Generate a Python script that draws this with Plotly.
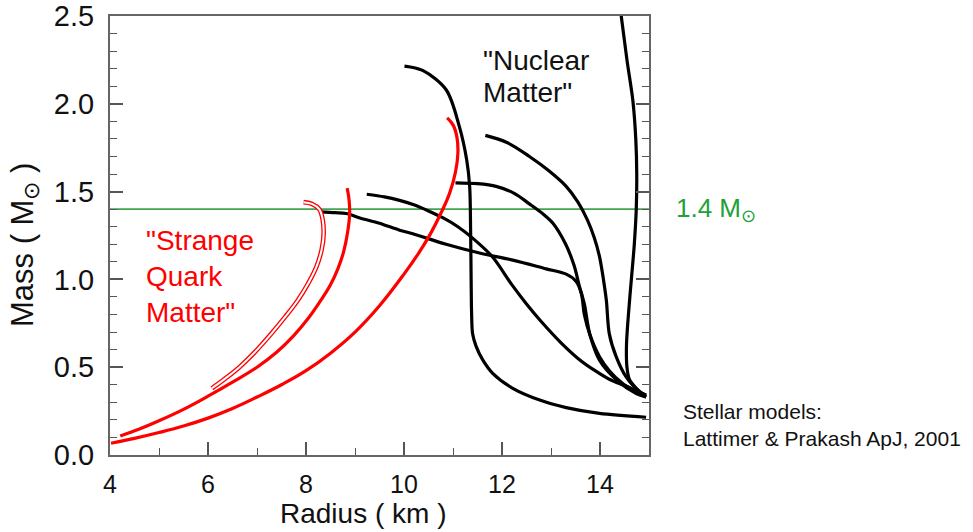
import plotly.graph_objects as go

FONT = "Liberation Sans, Arial, Helvetica, sans-serif"

# ---- axes ----
radius_range = [4, 15]
mass_range = [0, 2.5]
x_tick_vals = [4, 6, 8, 10, 12, 14]
x_tick_text = ["4", "6", "8", "10", "12", "14"]
y_tick_vals = [0.0, 0.5, 1.0, 1.5, 2.0, 2.5]
y_tick_text = ["0.0", "0.5", "1.0", "1.5", "2.0", "2.5"]

# canonical neutron-star mass (solar masses)
ref_mass = 1.4

# ---- strange quark matter stars (radius km, mass Msun) ----
sqm1_radius = [4.21, 4.6, 5.0, 5.5, 6.0, 6.5, 7.0, 7.4, 7.75, 8.05, 8.3, 8.5, 8.65, 8.77, 8.85, 8.89, 8.88, 8.84]
sqm1_mass = [0.108, 0.148, 0.195, 0.26, 0.335, 0.415, 0.50, 0.585, 0.68, 0.78, 0.88, 0.97, 1.06, 1.16, 1.27, 1.37, 1.45, 1.52]

sqm2_radius = [4.02, 4.5, 5.0, 5.5, 6.0, 6.5, 7.0, 7.5, 8.0, 8.5, 9.0, 9.5, 10.0, 10.3, 10.55, 10.75, 10.93, 11.05, 11.1, 11.08, 11.0, 10.88]
sqm2_mass = [0.067, 0.095, 0.128, 0.165, 0.21, 0.265, 0.33, 0.40, 0.48, 0.58, 0.70, 0.85, 1.03, 1.15, 1.265, 1.375, 1.49, 1.61, 1.72, 1.81, 1.88, 1.92]

sqm3_radius = [6.08, 6.35, 6.64, 6.97, 7.29, 7.57, 7.83, 8.04, 8.21, 8.32, 8.36, 8.34, 8.27, 8.12, 7.95]
sqm3_mass = [0.38, 0.435, 0.50, 0.59, 0.69, 0.785, 0.88, 0.975, 1.07, 1.17, 1.26, 1.34, 1.40, 1.43, 1.44]

# ---- nuclear matter stars (radius km, mass Msun) ----
nm1_radius = [10.01, 10.38, 10.86, 11.13, 11.28, 11.34, 11.36, 11.37, 11.38, 11.4, 11.47, 11.61, 11.81, 12.22, 12.77, 13.31, 13.99, 14.94]
nm1_mass = [2.215, 2.19, 2.08, 1.87, 1.68, 1.53, 1.26, 1.0, 0.8, 0.69, 0.62, 0.54, 0.465, 0.38, 0.313, 0.27, 0.237, 0.215]

nm2_radius = [14.41, 14.55, 14.67, 14.73, 14.75, 14.74, 14.7, 14.64, 14.58, 14.54, 14.55, 14.6, 14.74, 14.94]
nm2_mass = [2.55, 2.25, 2.02, 1.8, 1.6, 1.4, 1.2, 1.0, 0.8, 0.62, 0.5, 0.43, 0.38, 0.33]

nm3_radius = [11.66, 12.1, 12.56, 12.95, 13.31, 13.55, 13.74, 13.88, 13.99, 14.07, 14.13, 14.19, 14.33, 14.53, 14.81, 14.94]
nm3_mass = [1.82, 1.78, 1.70, 1.62, 1.53, 1.44, 1.34, 1.24, 1.13, 1.0, 0.88, 0.69, 0.56, 0.446, 0.36, 0.34]

nm4_radius = [11.05, 11.5, 11.88, 12.25, 12.56, 12.85, 13.04, 13.3, 13.47, 13.58, 13.68, 13.79, 13.99, 14.33, 14.74, 14.94]
nm4_mass = [1.55, 1.545, 1.53, 1.49, 1.43, 1.37, 1.32, 1.2, 1.08, 0.96, 0.86, 0.69, 0.54, 0.43, 0.35, 0.33]

nm5_radius = [9.24, 9.6, 9.91, 10.2, 10.5, 10.8, 11.1, 11.4, 11.8, 12.2, 12.5, 12.8, 13.2, 13.55, 13.9, 14.2, 14.55, 14.94]
nm5_mass = [1.485, 1.47, 1.45, 1.425, 1.39, 1.35, 1.3, 1.235, 1.13, 0.97, 0.86, 0.76, 0.64, 0.55, 0.48, 0.43, 0.39, 0.34]

nm6_radius = [8.28, 8.6, 8.82, 9.1, 9.5, 9.91, 10.18, 10.86, 11.54, 12.22, 12.9, 13.31, 13.51, 13.62, 13.68, 13.8, 13.99, 14.19, 14.45, 14.67, 14.94]
nm6_mass = [1.385, 1.38, 1.375, 1.35, 1.32, 1.28, 1.26, 1.20, 1.15, 1.11, 1.06, 1.03, 0.99, 0.92, 0.80, 0.68, 0.56, 0.48, 0.41, 0.37, 0.33]

RED = "#ff0000"
BLACK = "#000000"
GREEN_LINE = "#44a44c"
GREEN_TEXT = "#22a03a"
INK = "#111111"

fig = go.Figure()

# 1.4 Msun reference line
fig.add_trace(go.Scatter(x=radius_range, y=[ref_mass, ref_mass], mode="lines",
                         line=dict(color=GREEN_LINE, width=1.6), hoverinfo="skip"))

# nuclear matter sequences
for r, m in [(nm1_radius, nm1_mass), (nm2_radius, nm2_mass), (nm3_radius, nm3_mass),
             (nm4_radius, nm4_mass), (nm5_radius, nm5_mass), (nm6_radius, nm6_mass)]:
    fig.add_trace(go.Scatter(x=r, y=m, mode="lines",
                             line=dict(color=BLACK, width=3.2, shape="spline", smoothing=0.9),
                             hoverinfo="skip"))

# strange quark matter: hollow (double-stroke) sequence
fig.add_trace(go.Scatter(x=sqm3_radius, y=sqm3_mass, mode="lines",
                         line=dict(color=RED, width=4.6, shape="spline", smoothing=1.1),
                         hoverinfo="skip"))
fig.add_trace(go.Scatter(x=sqm3_radius, y=sqm3_mass, mode="lines",
                         line=dict(color="#ffffff", width=2.0, shape="spline", smoothing=1.1),
                         hoverinfo="skip"))

# strange quark matter: solid sequences
for r, m in [(sqm1_radius, sqm1_mass), (sqm2_radius, sqm2_mass)]:
    fig.add_trace(go.Scatter(x=r, y=m, mode="lines",
                             line=dict(color=RED, width=3.2, shape="spline", smoothing=1.2),
                             hoverinfo="skip"))

axis_common = dict(
    showline=True, linecolor="#666666", linewidth=2,
    ticks="inside", tickcolor="#555555", tickwidth=1.5, ticklen=13,
    showgrid=False, zeroline=False, automargin=False,
)

fig.update_xaxes(range=radius_range, tickvals=x_tick_vals, ticktext=x_tick_text,
                 mirror=True, ticklabelstandoff=6,
                 tickfont=dict(family=FONT, size=25, color=INK),
                 minor=dict(ticks="inside", ticklen=7, tickwidth=1.3, tickcolor="#555555",
                            dtick=1, tick0=4, showgrid=False),
                 **axis_common)
fig.update_yaxes(range=mass_range, tickvals=y_tick_vals, ticktext=y_tick_text,
                 mirror="ticks", ticklabelstandoff=8,
                 tickfont=dict(family=FONT, size=29, color=INK),
                 minor=dict(ticks="inside", ticklen=7, tickwidth=1.3, tickcolor="#555555",
                            dtick=0.1, tick0=0, showgrid=False),
                 **axis_common)


def label(text, x, y, size, color, **kw):
    return dict(text=text, x=x, y=y, xanchor=kw.pop("xanchor", "left"),
                yanchor=kw.pop("yanchor", "middle"), showarrow=False,
                font=dict(family=FONT, size=size, color=color), **kw)


annotations = [
    # axis titles
    label("Radius ( km )", 0.469, -0.133, 28, INK, xref="paper", yref="paper", xanchor="center"),
    label("Mass ( M<sub>⊙</sub> )", -0.158, 0.478, 31, INK, xref="paper", yref="paper",
          xanchor="center", textangle=-90),
    # labels inside the plot
    label("\"Nuclear", 11.58, 2.244, 28, INK),
    label("Matter\"", 11.58, 2.067, 28, INK),
    label("\"Strange", 4.70, 1.224, 28, RED),
    label("Quark", 4.70, 1.014, 28, RED),
    label("Matter\"", 4.70, 0.814, 28, RED),
    # labels to the right of the plot
    label("1.4 M<sub>⊙</sub>", 1.046, ref_mass, 26, GREEN_TEXT, xref="paper", yref="y"),
    label("Stellar models:", 1.059, 0.098, 21, INK, xref="paper", yref="paper"),
    label("Lattimer & Prakash ApJ, 2001", 1.059, 0.037, 21, INK, xref="paper", yref="paper"),
]

fig.update_layout(
    width=973, height=532,
    margin=dict(l=110, r=324, t=16, b=77),
    paper_bgcolor="white", plot_bgcolor="white",
    showlegend=False,
    annotations=annotations,
    font=dict(family=FONT),
)

fig.write_html("out.html")
